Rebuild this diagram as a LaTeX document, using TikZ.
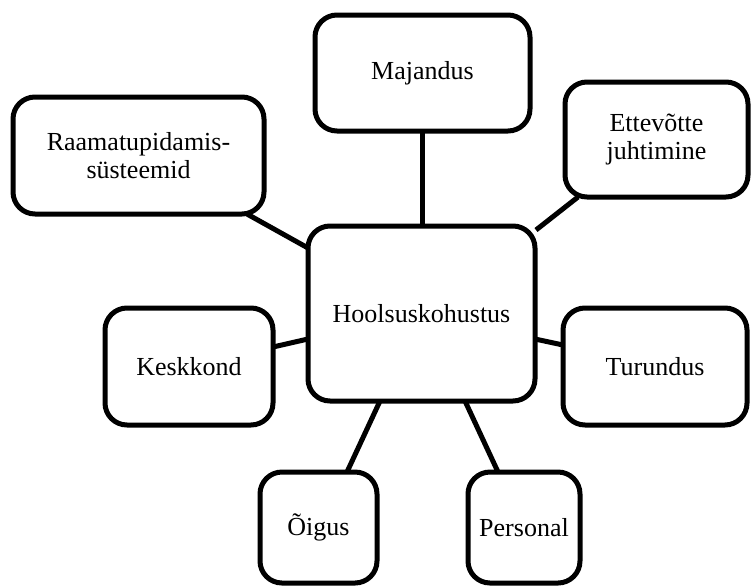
\documentclass[tikz,border=0pt]{standalone}
\usepackage{fontspec}
\setmainfont{Liberation Serif}
\usetikzlibrary{calc}
\begin{document}
\begin{tikzpicture}[x=1pt,y=-1pt,
  box/.style={draw=black, line width=5pt, rounded corners=22pt, fill=white,
    outer sep=0pt, inner sep=0pt, align=center,
    font=\fontsize{26}{28}\selectfont},
  link/.style={draw=black, line width=5pt}]
\useasboundingbox (0,0) rectangle (751,587);
\node[box, minimum width=227pt, minimum height=175pt] (hub) at (421.5,313.5) {Hoolsuskohustus};
\node[box, minimum width=215pt, minimum height=116pt] (maj) at (422.5,73) {Majandus};
\node[box, minimum width=251pt, minimum height=117pt] (rq) at (138.5,155.5) {Raamatupidamis-\\süsteemid};
\node[box, minimum width=183pt, minimum height=115pt] (ett) at (656.5,139.5) {Ettevõtte\\juhtimine};
\node[box, minimum width=168pt, minimum height=117pt] (kesk) at (189,366.5) {Keskkond};
\node[box, minimum width=184pt, minimum height=117pt] (tur) at (655,366.5) {Turundus};
\node[box, minimum width=117pt, minimum height=111pt] (oig) at (318.5,527.5) {Õigus};
\node[box, minimum width=112pt, minimum height=111pt] (pers) at (524,527.5) {Personal};
\draw[link] (maj.south) -- (maj.south |- hub.north);
\draw[link] ($(rq.south east)+(-17,0)$) -- ($(hub.north west)+(0,22)$);
\draw[link] ($(ett.south west)+(13,0)$) -- ($(hub.north east)+(1,4)$);
\draw[link] ($(kesk.east)+(0,-19.5)$) -- ($(hub.west)+(0,25.5)$);
\draw[link] ($(hub.east)+(0,25.5)$) -- ($(tur.west)+(0,-21.5)$);
\draw[link] ($(hub.south)+(-41.5,0)$) -- ($(oig.north)+(28.5,0)$);
\draw[link] ($(hub.south)+(43.5,0)$) -- ($(pers.north)+(-26,0)$);
\end{tikzpicture}
\end{document}
